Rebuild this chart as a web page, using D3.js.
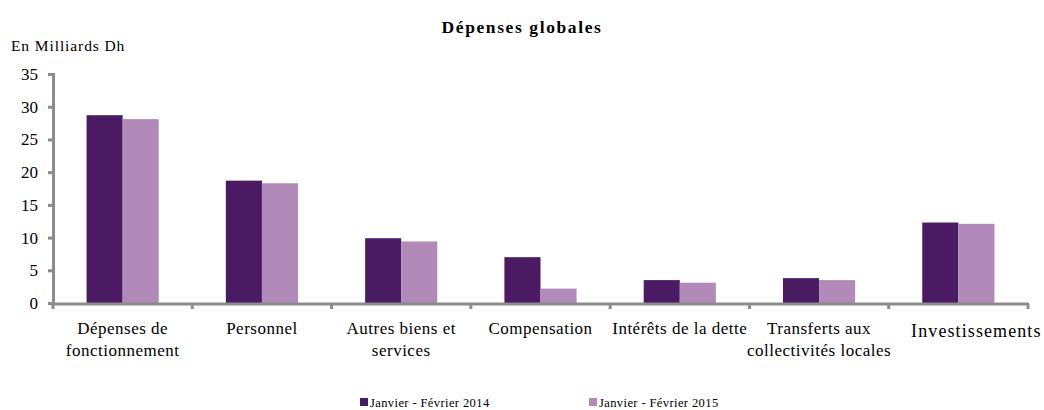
<!DOCTYPE html>
<html>
<head>
<meta charset="utf-8">
<script src="https://cdn.jsdelivr.net/npm/d3@7"></script>
<style>
  html, body { margin: 0; padding: 0; background: #fff; }
  svg { display: block; }
</style>
</head>
<body>
<svg id="chart" width="1044" height="410"></svg>
<script>
// Dépenses globales, en milliards de dirhams
const categories = [
  ["Dépenses de", "fonctionnement"],
  ["Personnel"],
  ["Autres biens et", "services"],
  ["Compensation"],
  ["Intérêts de la dette"],
  ["Transferts aux", "collectivités locales"],
  ["Investissements"]
];
const series2014 = [28.7, 18.7, 9.9, 7.0, 3.5, 3.8, 12.3];
const series2015 = [28.1, 18.3, 9.4, 2.2, 3.1, 3.5, 12.1];
const seriesNames = ["Janvier - Février 2014", "Janvier - Février 2015"];
const yTicks = [0, 5, 10, 15, 20, 25, 30, 35];

const FONT = "Liberation Serif";
const colors = ["#4a1a62", "#b18ab9"];
const axisColor = "#8c8c8c";
const svg = d3.select("#chart").attr("font-family", FONT);

const x = d3.scaleBand().domain(d3.range(categories.length)).range([53, 1028]).paddingInner(0).paddingOuter(0);
const x1 = d3.scaleBand().domain([0, 1]).range([0, x.bandwidth()]).paddingInner(0).paddingOuter(0.93);
const y = d3.scaleLinear().domain([0, 35]).range([303, 74]);

// title and unit
svg.append("text").attr("x", 522).attr("y", 33).attr("text-anchor", "middle")
  .attr("font-family", FONT).attr("font-weight", "bold").attr("font-size", 17.5)
  .attr("letter-spacing", 1.6).attr("fill", "#000")
  .text("Dépenses globales");
svg.append("text").attr("x", 11).attr("y", 51).attr("font-family", FONT).attr("font-size", 15.5)
  .attr("letter-spacing", 0.9).attr("fill", "#000").text("En Milliards Dh");

// bars
const data = [series2014, series2015];
data.forEach((vals, s) => {
  svg.append("g").selectAll("rect").data(vals).join("rect")
    .attr("x", (d, i) => x(i) + x1(s))
    .attr("width", x1.bandwidth())
    .attr("y", d => y(d))
    .attr("height", d => y(0) - y(d))
    .attr("fill", colors[s]);
});

// y axis
const yAxis = svg.append("g").attr("transform", "translate(53,0)")
  .call(d3.axisLeft(y).tickValues(yTicks).tickSize(5).tickPadding(10))
  .attr("font-family", FONT);
yAxis.select(".domain").attr("stroke", axisColor).attr("stroke-width", 3);
yAxis.selectAll(".tick line").attr("stroke", axisColor).attr("stroke-width", 3);
yAxis.selectAll(".tick text").attr("font-size", 17).attr("fill", "#000").attr("font-family", FONT);

// x axis line with category separators
const xAxis = svg.append("g").attr("transform", "translate(0,304)");
xAxis.append("line").attr("x1", 51).attr("x2", 1029).attr("y1", 0).attr("y2", 0)
  .attr("stroke", axisColor).attr("stroke-width", 3);
xAxis.selectAll("line.sep").data(d3.range(categories.length + 1)).join("line")
  .attr("class", "sep")
  .attr("x1", i => i < categories.length ? x(i) : x.range()[1])
  .attr("x2", i => i < categories.length ? x(i) : x.range()[1])
  .attr("y1", 0).attr("y2", 5)
  .attr("stroke", axisColor).attr("stroke-width", 3);

// category labels
categories.forEach((lines, i) => {
  const big = lines[0] === "Investissements";
  const cx = x(i) + x.bandwidth() / 2 + (big ? 18 : 0);
  const t = svg.append("text")
    .attr("x", cx)
    .attr("y", big ? 337 : 334)
    .attr("text-anchor", "middle")
    .attr("font-family", FONT)
    .attr("font-size", big ? 18 : 17)
    .attr("letter-spacing", big ? 1.1 : 0.5)
    .attr("fill", "#000");
  lines.forEach((l, k) => t.append("tspan").attr("x", cx).attr("dy", k === 0 ? 0 : 22).text(l));
});

// legend
const legendX = [360, 589];
seriesNames.forEach((name, s) => {
  const g = svg.append("g").attr("transform", `translate(${legendX[s]},398)`);
  g.append("rect").attr("width", 8).attr("height", 8).attr("fill", colors[s]);
  g.append("text").attr("x", 10).attr("y", 9).attr("font-family", FONT).attr("font-size", 12.5)
    .attr("letter-spacing", 0.4).attr("fill", "#000").text(name);
});
</script>
</body>
</html>
